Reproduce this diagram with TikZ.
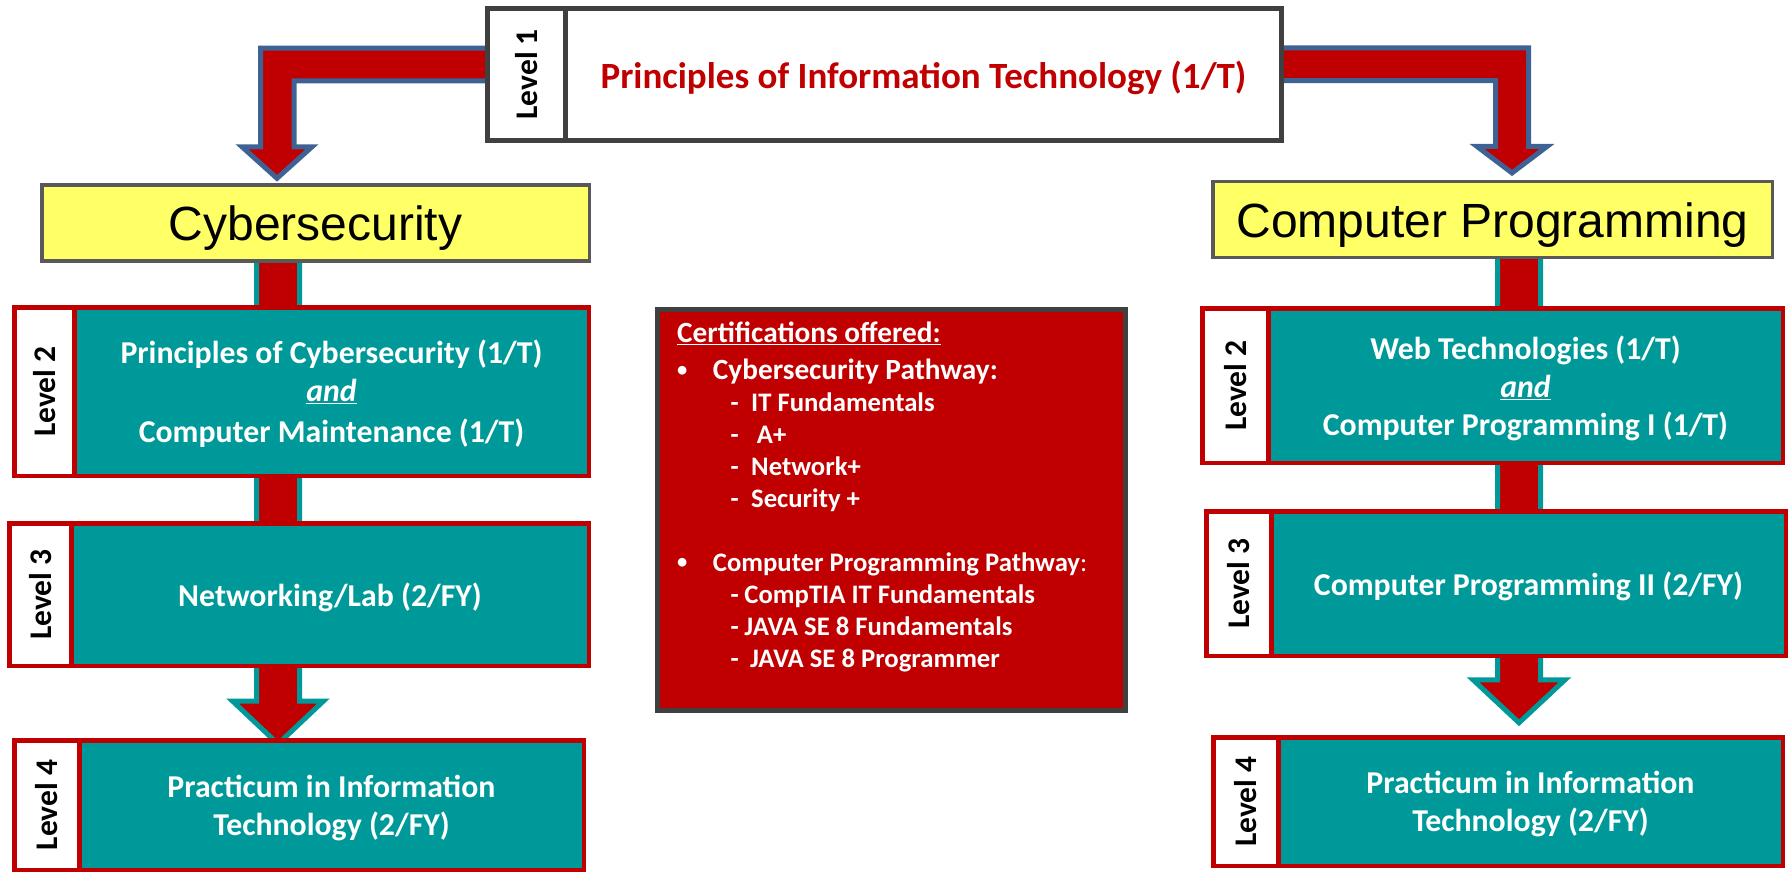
\documentclass[tikz,border=0pt]{standalone}
\usepackage{fontspec}
\setmainfont{Carlito}
\newfontfamily\arialfont{Liberation Sans}
\usetikzlibrary{positioning,calc,backgrounds}

\definecolor{itred}{HTML}{C00000}
\definecolor{itteal}{HTML}{009999}
\definecolor{ityellow}{HTML}{FFFF66}
\definecolor{itgray}{HTML}{404040}
\definecolor{itline}{HTML}{595959}
\definecolor{itblue}{HTML}{3F6294}

\newcommand{\smallbullet}{\raisebox{2.5pt}{\scalebox{0.7}{\textbullet}}}

\tikzset{
  topbox/.style={draw=itgray, line width=5pt, fill=white, inner sep=0pt, outer sep=0pt},
  toptab/.style={topbox, font=\bfseries\fontsize{31.5}{36}\selectfont},
  trackbox/.style={draw=itline, line width=3.5pt, fill=ityellow, inner sep=0pt, outer sep=0pt,
    text depth=0pt, font=\arialfont\fontsize{48}{56}\selectfont},
  coursebox/.style={draw=itred, line width=4.5pt, fill=itteal, text=white, align=center,
    inner sep=0pt, outer sep=0pt, text depth=-4pt, font=\bfseries\fontsize{31.8}{38}\selectfont},
  lvltab/.style={draw=itred, line width=4.5pt, fill=white, inner sep=0pt, outer sep=0pt,
    font=\bfseries\fontsize{31.5}{36}\selectfont},
  certbox/.style={draw=itgray, line width=5pt, fill=itred, inner sep=0pt, outer sep=0pt},
  certline/.style={anchor=base west, inner sep=0pt, text=white,
    font=\bfseries\fontsize{29.3}{32}\selectfont},
  certitem/.style={certline, font=\bfseries\fontsize{26.7}{32}\selectfont},
  bigarrow/.style={fill=itred, draw=itblue, line width=5pt, line join=miter},
  colarrow/.style={fill=itred, draw=itteal, line width=5pt, line join=miter}
}

\begin{document}
\begin{tikzpicture}[x=1pt,y=-1pt]
\useasboundingbox (0,0) rectangle (1790,873);

% level 1
\node[topbox, minimum width=716pt, minimum height=131.5pt, text=itred, text depth=0pt,
  font=\bfseries\fontsize{37}{44}\selectfont] (l1) at (923.5,74.3)
  {Principles of Information Technology (1/T)};
\node[toptab, minimum width=78pt, minimum height=131.5pt, left=0pt of l1] (l1tab) {\rotatebox{90}{Level 1}};

% pathways
\node[trackbox, minimum width=547.5pt, minimum height=76pt] (cyber) at (315.5,222.8) {Cybersecurity};
\node[trackbox, minimum width=559.5pt, minimum height=76pt] (cprog) at (1492.5,219.7) {Computer Programming};

% cybersecurity courses
\node[coursebox, minimum width=514.5pt, minimum height=168.5pt] (cyl2) at (331.5,391.5)
  {Principles of Cybersecurity (1/T)\\ \underline{\textit{and}}\\[3pt] Computer Maintenance (1/T)};
\node[lvltab, minimum width=60pt, minimum height=168.5pt, left=0pt of cyl2] (cyl2tab) {\rotatebox{90}{Level 2}};

\node[coursebox, minimum width=517.5pt, minimum height=142.5pt] (cyl3) at (330,594.5)
  {Networking/Lab (2/FY)};
\node[lvltab, minimum width=62pt, minimum height=142.5pt, left=0pt of cyl3] (cyl3tab) {\rotatebox{90}{Level 3}};

\node[coursebox, minimum width=504.5pt, minimum height=129.5pt] (cyl4) at (331.5,805)
  {Practicum in Information\\ Technology (2/FY)};
\node[lvltab, minimum width=65pt, minimum height=129.5pt, left=0pt of cyl4] (cyl4tab) {\rotatebox{90}{Level 4}};

% programming courses
\node[coursebox, minimum width=514.5pt, minimum height=154.5pt] (cpl2) at (1525.5,385.5)
  {Web Technologies (1/T)\\ \underline{\textit{and}}\\ Computer Programming I (1/T)};
\node[lvltab, minimum width=66pt, minimum height=154.5pt, left=0pt of cpl2] (cpl2tab) {\rotatebox{90}{Level 2}};

\node[coursebox, minimum width=514.5pt, minimum height=144.5pt] (cpl3) at (1528.5,583.5)
  {Computer Programming II (2/FY)};
\node[lvltab, minimum width=65pt, minimum height=144.5pt, left=0pt of cpl3] (cpl3tab) {\rotatebox{90}{Level 3}};

\node[coursebox, minimum width=504.5pt, minimum height=128.5pt] (cpl4) at (1530.5,801.5)
  {Practicum in Information\\ Technology (2/FY)};
\node[lvltab, minimum width=65pt, minimum height=128.5pt, left=0pt of cpl4] (cpl4tab) {\rotatebox{90}{Level 4}};

% certifications
\node[certbox, minimum width=468pt, minimum height=401pt] (certs) at (891.5,510) {};
\node[certline] (cert0) at (677,342.6) {\underline{Certifications offered:}};
\node[certline] (cert1) at (677,379.3) {\makebox[35.7pt][l]{\smallbullet}Cybersecurity Pathway:};
\node[certitem] (cert2) at (730.5,411) {\makebox[20.5pt][l]{-}IT Fundamentals};
\node[certitem] (cert3) at (730.5,443.3) {\makebox[26.2pt][l]{-}A+};
\node[certitem] (cert4) at (730.5,475.3) {\makebox[20.5pt][l]{-}Network+};
\node[certitem] (cert5) at (730.5,507.6) {\makebox[20.5pt][l]{-}Security +};
\node[certline] (cert6) at (677,571) {\makebox[35.7pt][l]{\smallbullet}%
  {\fontsize{26.7}{32}\selectfont Computer Programming Pathway{\mdseries:}}};
\node[certitem] (cert7) at (730.5,603.3) {\makebox[13.8pt][l]{-}CompTIA IT Fundamentals};
\node[certitem] (cert8) at (730.5,635.3) {\makebox[13.8pt][l]{-}JAVA SE 8 Fundamentals};
\node[certitem] (cert9) at (730.5,667.6) {\makebox[19.5pt][l]{-}JAVA SE 8 Programmer};

% arrows behind the boxes
\begin{scope}[on background layer]
  \coordinate (cybtip) at ([xshift=-38.5pt,yshift=6.5pt]cyber.north);
  \coordinate (cprtip) at ([xshift=19.5pt,yshift=8.75pt]cprog.north);
  \draw[bigarrow] ([xshift=10pt,yshift=26.2pt]l1tab.west) -| ($(cybtip)+(-16.5,-31.5)$)
    -- ++(-18.5,0) -- (cybtip) -- ++(35,-31.5) -- ++(-18,0)
    |- ([xshift=10pt,yshift=-6.5pt]l1tab.west) -- cycle;
  \draw[bigarrow] ([xshift=-10pt,yshift=26.5pt]l1.east) -| ($(cprtip)+(16.5,-26.5)$)
    -- ++(18.5,0) -- (cprtip) -- ++(-35,-26.5) -- ++(18.5,0)
    |- ([xshift=-10pt,yshift=-6.2pt]l1.east) -- cycle;

  \coordinate (cyl4tip) at ([xshift=-53.5pt,yshift=-3.75pt]cyl4.north);
  \coordinate (cpl4tip) at ([xshift=-11.5pt,yshift=14.5pt]cpl4.north);
  \draw[colarrow] (cyl4tip) -- ++(-45.5,-43) -- ++(24,0) -- ++(0,-446)
    -- ++(43,0) -- ++(0,446) -- ++(24,0) -- cycle;
  \draw[colarrow] (cpl4tip) -- ++(-46,-43) -- ++(24.5,0) -- ++(0,-424.5)
    -- ++(43,0) -- ++(0,424.5) -- ++(24.5,0) -- cycle;
\end{scope}
\end{tikzpicture}
\end{document}
